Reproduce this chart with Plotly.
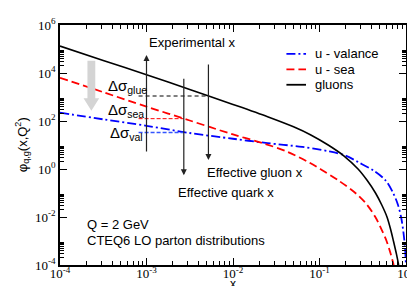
import numpy as np
import plotly.graph_objects as go

# ---------------- data ----------------
gluon_x = [1e-4, 3.16e-4, 1e-3, 3.16e-3, 1e-2, 2.51e-2, 5.01e-2, 7.94e-2, 0.126, 0.191, 0.279,
           0.355, 0.444, 0.525, 0.603, 0.668, 0.716, 0.776, 0.822]
gluon_y = [1.32e5, 3.31e4, 8.51e3, 2.04e3, 490, 151, 57.5, 26.3, 10.0, 3.55, 1.0,
           0.339, 0.1, 0.0316, 0.01, 2.82e-3, 1.0e-3, 2.82e-4, 1.0e-4]

sea_x = [1e-4, 3.16e-4, 1e-3, 3.16e-3, 1e-2, 2.28e-2, 4.18e-2, 7.69e-2, 0.102, 0.166, 0.26,
         0.347, 0.442, 0.519, 0.596, 0.661, 0.721]
sea_y = [6310, 1585, 398, 105, 27.5, 11.5, 5.37, 1.82, 1.0, 0.331, 0.1,
         0.0355, 0.01, 3.16e-3, 1.0e-3, 3.16e-4, 1.0e-4]

val_x = [1e-4, 3.16e-4, 1e-3, 3.16e-3, 1e-2, 2.51e-2, 6.31e-2, 0.126, 0.2, 0.282, 0.427,
         0.582, 0.706, 0.805, 0.877, 0.931, 0.975, 0.995]
val_y = [224, 117, 63.1, 31.6, 18.2, 12.0, 8.32, 5.5, 3.63, 1.91, 0.83,
         0.331, 0.105, 0.0331, 0.01, 2.51e-3, 5.0e-4, 1.26e-4]

# experimental / effective x values and curve levels marked by the dashed lines
x_exp = 1e-3
x_eff_quark = 2.7e-3
x_eff_gluon = 5.2e-3
x_ref_start = 8.1e-4
glue_at_eff = 1.1e3
sea_at_eff = 125
val_at_eff = 33

x_tick_vals = [1e-4, 1e-3, 1e-2, 1e-1, 1]
x_tick_text = ["10<sup>-4</sup>", "10<sup>-3</sup>", "10<sup>-2</sup>", "10<sup>-1</sup>", "10<sup>0</sup>"]
y_tick_vals = [1e-4, 1e-2, 1, 1e2, 1e4, 1e6]
y_tick_text = ["10<sup>-4</sup>", "10<sup>-2</sup>", "10<sup>0</sup>", "10<sup>2</sup>", "10<sup>4</sup>", "10<sup>6</sup>"]
x_minor = [k * 10.0 ** n for n in range(-4, 0) for k in range(2, 10)]
y_minor = [k * 10.0 ** n for n in (-4, -2, 0, 2, 4) for k in range(2, 10)]

legend_names = ["u - valance", "u - sea", "gluons"]
legend_colors = ["#0000ff", "#ff0000", "#000000"]
legend_dashes = ["9px,3px,2px,3px", "8px,4px", "solid"]

# ---------------- layout geometry ----------------
W, H = 415, 286
L, R, T, B = 52, 10, 8, 29
PW, PH = W - L - R, H - T - B


def px(xp):
    return (xp - L) / PW


def py(yp):
    return 1 - (yp - T) / PH


SANS = "Liberation Sans, Arial, sans-serif"
SERIF = "Liberation Serif, Times New Roman, serif"

fig = go.Figure()

series = [(val_x, val_y), (sea_x, sea_y), (gluon_x, gluon_y)]
widths = [1.8, 1.8, 1.6]
for (xs, ys), name, col, dash, w in zip(series, legend_names, legend_colors, legend_dashes, widths):
    fig.add_trace(go.Scatter(x=xs, y=ys, mode="lines", name=name, showlegend=False,
                             line=dict(color=col, width=w, dash=dash, shape="spline", smoothing=0.9)))

# horizontal reference dashes
fig.add_trace(go.Scatter(x=[x_ref_start, x_eff_gluon], y=[glue_at_eff] * 2, mode="lines", showlegend=False,
                         line=dict(color="black", width=1, dash="4px,3px")))
fig.add_trace(go.Scatter(x=[x_ref_start, x_eff_quark], y=[sea_at_eff] * 2, mode="lines", showlegend=False,
                         line=dict(color="#ff0000", width=1, dash="4px,2px")))
fig.add_trace(go.Scatter(x=[x_ref_start, x_eff_quark], y=[val_at_eff] * 2, mode="lines", showlegend=False,
                         line=dict(color="#3355ff", width=1.5, dash="4px,2px")))

annotations = []
# vertical arrows
arrow = dict(showarrow=True, arrowhead=2, arrowsize=1, arrowwidth=1.2, arrowcolor="#222", text="",
             xref="x", yref="paper", ax=0)
annotations.append(dict(x=np.log10(x_exp), y=py(39), ay=98, **arrow))
annotations.append(dict(x=np.log10(x_eff_quark), y=py(164), ay=-98, **arrow))
annotations.append(dict(x=np.log10(x_eff_gluon), y=py(148), ay=-97, **arrow))

txt = dict(showarrow=False, xref="paper", yref="paper", font=dict(family=SANS, size=13, color="black"))
annotations.append(dict(text="Experimental x", x=px(141), y=py(26), xanchor="left", yanchor="middle", **txt))
annotations.append(dict(text="Effective gluon x", x=px(200), y=py(161), xanchor="left", yanchor="middle", **txt))
annotations.append(dict(text="Effective quark x", x=px(170), y=py(182), xanchor="left", yanchor="middle", **txt))
annotations.append(dict(text="Q = 2 GeV", x=px(77), y=py(215), xanchor="left", yanchor="middle", **txt))
annotations.append(dict(text="CTEQ6 LO parton distributions", x=px(77), y=py(232), xanchor="left",
                        yanchor="middle", **txt))
# axis titles
annotations.append(dict(text="x", x=px(228.5), y=py(285), xanchor="center", yanchor="bottom", borderpad=0,
                        showarrow=False, xref="paper", yref="paper",
                        font=dict(family=SANS, size=12, color="black")))
annotations.append(dict(text="φ<sub>q,g</sub>(x,Q<sup>2</sup>)", x=px(13), y=py(132), xanchor="center",
                        yanchor="middle", textangle=-90, **txt))

# manual legend
shapes = []
leg_rows = [38, 54, 70]
for name, col, dash, yy in zip(legend_names, legend_colors, legend_dashes, leg_rows):
    shapes.append(dict(type="line", xref="paper", yref="paper", x0=px(283), x1=px(303), y0=py(yy), y1=py(yy),
                       line=dict(color=col, width=1.8, dash=dash)))
    annotations.append(dict(text=name, x=px(310), y=py(yy), xanchor="left", yanchor="middle", **txt))

ds = dict(showarrow=False, xref="paper", yref="paper", font=dict(family=SANS, size=15, color="black"),
          xanchor="left", yanchor="middle")
annotations.append(dict(text="Δσ<sub>glue</sub>", x=px(99), y=py(72), **ds))
annotations.append(dict(text="Δσ<sub>sea</sub>", x=px(99), y=py(97), **ds))
annotations.append(dict(text="Δσ<sub>val</sub>", x=px(101), y=py(121), **ds))

# gray shift arrow
pts = [(80, 45), (88, 45), (88, 84), (92, 84), (84, 97), (76, 84), (80, 84)]
path = "M " + " L ".join(f"{px(a):.4f},{py(b):.4f}" for a, b in pts) + " Z"
shapes.append(dict(type="path", xref="paper", yref="paper", path=path, fillcolor="#d4d4d4", line=dict(width=0)))

axis_common = dict(type="log", showgrid=False, zeroline=False, showline=True, linecolor="black", linewidth=1.5,
                   mirror="allticks", ticks="inside", ticklen=7, tickwidth=1.2, tickcolor="black",
                   tickmode="array", tickfont=dict(family=SERIF, size=13, color="black"))

fig.update_layout(
    width=W, height=H, margin=dict(l=L, r=R, t=T, b=B, pad=0),
    paper_bgcolor="white", plot_bgcolor="white",
    xaxis=dict(range=[-4, 0], tickvals=x_tick_vals, ticktext=x_tick_text, ticklabelstandoff=-4,
               minor=dict(tickmode="array", tickvals=x_minor, ticks="inside", ticklen=4, tickwidth=1, tickcolor="black"),
               **axis_common),
    yaxis=dict(range=[-4, 6], tickvals=y_tick_vals, ticktext=y_tick_text,
               minor=dict(tickmode="array", tickvals=y_minor, ticks="inside", ticklen=4, tickwidth=1, tickcolor="black"),
               **axis_common),
    annotations=annotations,
    shapes=shapes,
    showlegend=False,
)

fig.write_html("out.html")
